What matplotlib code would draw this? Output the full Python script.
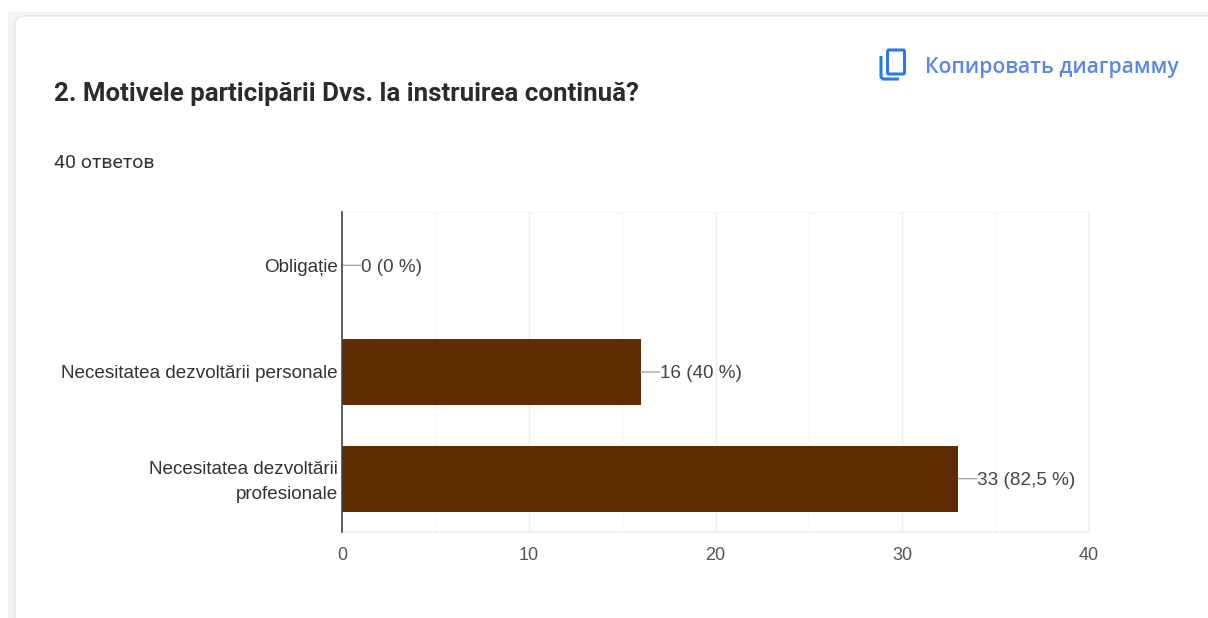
import matplotlib
matplotlib.use('Agg')
import matplotlib.pyplot as plt
from matplotlib.patches import FancyBboxPatch, Rectangle
from matplotlib.transforms import ScaledTranslation

categories = ['Obligație', 'Necesitatea dezvoltării personale', 'Necesitatea dezvoltării\nprofesionale']
counts = [0, 16, 33]
value_labels = ['0 (0 %)', '16 (40 %)', '33 (82,5 %)']
major_ticks = [0, 10, 20, 30, 40]
minor_ticks = [5, 15, 25, 35]

W, H = 1208, 618
LABEL_FONT = ['Liberation Sans', 'DejaVu Sans']

fig = plt.figure(figsize=(W / 100, H / 100), dpi=100, facecolor='white')

# page chrome, in pixel coordinates
bg = fig.add_axes([0, 0, 1, 1])
bg.set_xlim(0, W)
bg.set_ylim(H, 0)
bg.axis('off')
bg.add_patch(Rectangle((8, 12), W, H, fc='#f6f2ef', ec='none'))
bg.add_patch(FancyBboxPatch((20, 21), W + 40, H + 40, boxstyle='round,pad=5,rounding_size=9',
                            fc='white', ec='#e6e5e8', lw=1))

bg.text(54, 93.5, '2. Motivele participării Dvs. la instruirea continuă?', family='Roboto',
        weight='bold', fontsize=18.6, color='#2a2b2d', va='center', ha='left')
bg.text(54, 162.5, '40 ответов', family='Roboto', fontsize=14, color='#333333', va='center', ha='left')
bg.text(925, 67, 'Копировать диаграмму', family='Open Sans', weight='semibold',
        fontsize=15.2, color='#5a86e6', va='center', ha='left')

# copy icon
blue = '#2a78ee'
bg.add_patch(FancyBboxPatch((887.5, 50), 17, 24, boxstyle='round,pad=0,rounding_size=1.5',
                            fc='none', ec=blue, lw=2.2))
bg.plot([881, 881, 883, 899], [56, 77, 79, 79], color=blue, lw=2.2, solid_capstyle='butt')

# chart
ax = fig.add_axes([342 / W, 1 - 532 / H, 747 / W, 320 / H])
ax.patch.set_alpha(0)
positions = list(range(len(categories)))
ax.barh(positions, counts, height=0.62, color='#5f2c02', zorder=3)
ax.set_xlim(0, 40)
ax.set_ylim(2.5, -0.5)

ax.set_xticks(major_ticks)
ax.set_xticks(minor_ticks, minor=True)
ax.grid(True, axis='x', which='major', color='#eeeeee', lw=1, zorder=0)
ax.grid(True, axis='x', which='minor', color='#f6f6f6', lw=1, zorder=0)
ax.tick_params(axis='both', which='both', length=0)
ax.tick_params(axis='x', pad=10.5, labelsize=13, labelcolor='#555555')
for t in ax.get_xticklabels():
    t.set_family(LABEL_FONT)

ax.set_yticks(positions)
ax.set_yticklabels(categories, family=LABEL_FONT, fontsize=13.6, color='#333333',
                   linespacing=1.62, ha='right')
ax.tick_params(axis='y', pad=3)
# the wrapped label sits a little higher than matplotlib centres it
wrapped = ax.get_yticklabels()[2]
wrapped.set_transform(wrapped.get_transform() + ScaledTranslation(0, 2 / 72, fig.dpi_scale_trans))

ax.spines['top'].set_color('#f6f6f6')
for side in ['right', 'bottom']:
    ax.spines[side].set_color('#f0f0f0')
    ax.spines[side].set_linewidth(1.5)
ax.spines['left'].set_color('#444444')
ax.spines['left'].set_linewidth(1.2)
ax.spines['left'].set_zorder(5)

# leader lines and value labels
for pos, count, label in zip(positions, counts, value_labels):
    ax.annotate('', xy=(count, pos), xytext=(13.5, 0), textcoords='offset points',
                arrowprops=dict(arrowstyle='-', color='#a8a8a8', lw=1, shrinkA=0, shrinkB=0))
    ax.annotate(label, xy=(count, pos), xytext=(13.5, -1.2), textcoords='offset points',
                family=LABEL_FONT, fontsize=13.6, color='#444444', va='center', ha='left')

fig.savefig('out.png', dpi=100)
